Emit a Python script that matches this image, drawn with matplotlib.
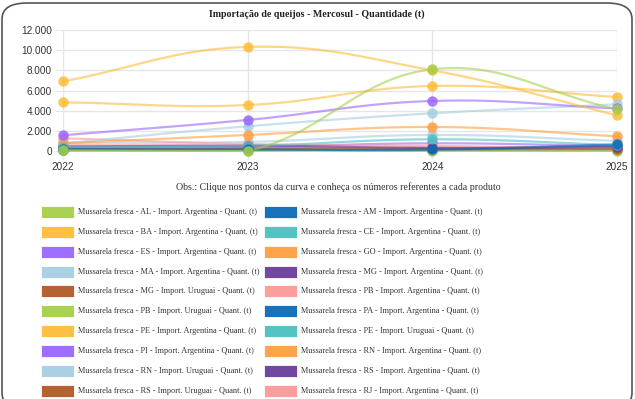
import numpy as np
import matplotlib
matplotlib.use('Agg')
import matplotlib.pyplot as plt
from matplotlib.patches import FancyBboxPatch, Rectangle
from matplotlib.ticker import FuncFormatter

plt.rcParams['font.family'] = ['Liberation Serif', 'DejaVu Serif']

anos = [2022, 2023, 2024, 2025]

series_nomes = [
    'Mussarela fresca - AL - Import. Argentina - Quant. (t)',
    'Mussarela fresca - AM - Import. Argentina - Quant. (t)',
    'Mussarela fresca - BA - Import. Argentina - Quant. (t)',
    'Mussarela fresca - CE - Import. Argentina - Quant. (t)',
    'Mussarela fresca - ES - Import. Argentina - Quant. (t)',
    'Mussarela fresca - GO - Import. Argentina - Quant. (t)',
    'Mussarela fresca - MA - Import. Argentina - Quant. (t)',
    'Mussarela fresca - MG - Import. Argentina - Quant. (t)',
    'Mussarela fresca - MG - Import. Uruguai - Quant. (t)',
    'Mussarela fresca - PB - Import. Argentina - Quant. (t)',
    'Mussarela fresca - PB - Import. Uruguai - Quant. (t)',
    'Mussarela fresca - PA - Import. Argentina - Quant. (t)',
    'Mussarela fresca - PE - Import. Argentina - Quant. (t)',
    'Mussarela fresca - PE - Import. Uruguai - Quant. (t)',
    'Mussarela fresca - PI - Import. Argentina - Quant. (t)',
    'Mussarela fresca - RN - Import. Argentina - Quant. (t)',
    'Mussarela fresca - RN - Import. Uruguai - Quant. (t)',
    'Mussarela fresca - RS - Import. Argentina - Quant. (t)',
    'Mussarela fresca - RS - Import. Uruguai - Quant. (t)',
    'Mussarela fresca - RJ - Import. Argentina - Quant. (t)',
]

valores = [
    [60, 0, 8100, 4140],
    [200, 150, 150, 650],
    [6910, 10320, 8000, 3540],
    [400, 500, 1160, 600],
    [1560, 3080, 4960, 4230],
    [760, 1590, 2380, 1460],
    [760, 2450, 3740, 4630],
    [450, 530, 300, 400],
    [200, 250, 250, 200],
    [1260, 700, 500, 300],
    [50, 30, 30, 20],
    [100, 150, 100, 500],
    [4830, 4560, 6450, 5360],
    [50, 60, 200, 100],
    [300, 400, 760, 480],
    [350, 300, 250, 150],
    [800, 900, 1590, 1000],
    [150, 120, 100, 200],
    [100, 80, 60, 50],
    [600, 500, 400, 300],
]

paleta = ['#a6cf4b', '#0a6ab6', '#fdbd38', '#4bc0c0', '#9966ff',
          '#ff9f40', '#a6cee3', '#6a3d9a', '#b15928', '#fb9a99']

W, H = 635, 399
fig = plt.figure(figsize=(W / 100, H / 100), dpi=100)

# moldura arredondada
frame = FancyBboxPatch((2 / W, -10 / H), 630 / W, 406 / H,
                       boxstyle='round,pad=0,rounding_size=0.04',
                       transform=fig.transFigure, fill=False,
                       edgecolor='#555555', linewidth=1.2)
fig.patches.append(frame)

x0, x1, ytop, ybot = 63, 617, 30, 151
ax = fig.add_axes([x0 / W, 1 - ybot / H, (x1 - x0) / W, (ybot - ytop) / H])
ax.set_xlim(2022, 2025)
ax.set_ylim(0, 12000)

px_x = (x1 - x0) / 3.0
px_y = (ybot - ytop) / 12000.0
larg, alt = x1 - x0, ybot - ytop


def spline_chartjs(xs, ys, t=0.4, n=40):
    # curva bezier como no Chart.js (tensao 0.4), calculada em pixels,
    # pontos de controle limitados a area do grafico
    P = np.column_stack([(np.array(xs) - 2022) * px_x, np.array(ys) * px_y])
    m = len(P)
    cps = []
    for i in range(m):
        prev = P[max(i - 1, 0)]
        cur = P[i]
        nxt = P[min(i + 1, m - 1)]
        d01 = np.hypot(*(cur - prev))
        d12 = np.hypot(*(nxt - cur))
        tot = d01 + d12
        s01 = d01 / tot if tot else 0
        s12 = d12 / tot if tot else 0
        cp1 = cur - t * s01 * (nxt - prev)
        cp2 = cur + t * s12 * (nxt - prev)
        cp1 = np.clip(cp1, [0, 0], [larg, alt])
        cp2 = np.clip(cp2, [0, 0], [larg, alt])
        cps.append((cp1, cp2))
    out = [P[0]]
    u = np.linspace(0, 1, n)[1:, None]
    for i in range(m - 1):
        a, b = P[i], cps[i][1]
        c, d = cps[i + 1][0], P[i + 1]
        seg = (1 - u) ** 3 * a + 3 * (1 - u) ** 2 * u * b + 3 * (1 - u) * u ** 2 * c + u ** 3 * d
        out.extend(seg)
    out = np.array(out)
    return out[:, 0] / px_x + 2022, out[:, 1] / px_y


nser = len(valores)
for i, vals in enumerate(valores):
    cor = paleta[i % len(paleta)]
    z = 2 + (nser - i) * 0.01
    sx, sy = spline_chartjs(anos, vals)
    ax.plot(sx, sy, color=cor, linewidth=1.6, alpha=0.6, clip_on=False, zorder=z)
    ax.plot(anos, vals, 'o', color=cor, markersize=7.5, alpha=0.85,
            markeredgewidth=0, clip_on=False, zorder=z + 1)

ax.set_xticks(anos)
ax.set_yticks(np.arange(0, 12001, 2000))
ax.yaxis.set_major_formatter(FuncFormatter(lambda v, p: f'{int(v):,}'.replace(',', '.')))
ax.grid(True, color='#e6e6e6', linewidth=1)
ax.set_axisbelow(True)
for s in ax.spines.values():
    s.set_visible(False)
ax.tick_params(axis='both', length=6, color='#e6e6e6', labelsize=7.2,
               labelcolor='#333333', pad=2)
for lab in ax.get_yticklabels() + ax.get_xticklabels():
    lab.set_family(['Liberation Sans', 'DejaVu Sans'])

fig.text(317 / W, 1 - 14 / H, 'Importação de queijos - Mercosul - Quantidade (t)',
         ha='center', va='center', fontsize=7.2, fontweight='bold', color='#222222')
fig.text(338 / W, 1 - 187 / H,
         'Obs.: Clique nos pontos da curva e conheça os números referentes a cada produto',
         ha='center', va='center', fontsize=7.1, color='#333333')

# legenda manual em duas colunas
linhas_y = [212, 232, 252, 272, 291, 311, 331, 351, 371, 391]
for i, nome in enumerate(series_nomes):
    lin, col = divmod(i, 2)
    y = linhas_y[lin]
    bx = 41 if col == 0 else 264
    cor = paleta[i % len(paleta)]
    fig.patches.append(Rectangle((bx / W, 1 - (y + 6) / H), 33 / W, 12 / H,
                                 transform=fig.transFigure, facecolor=cor,
                                 edgecolor='white', linewidth=0.6, alpha=0.95))
    fig.text((bx + 37) / W, 1 - y / H, nome, ha='left', va='center',
             fontsize=5.95, color='#333333')

fig.savefig('out.png', dpi=100)
